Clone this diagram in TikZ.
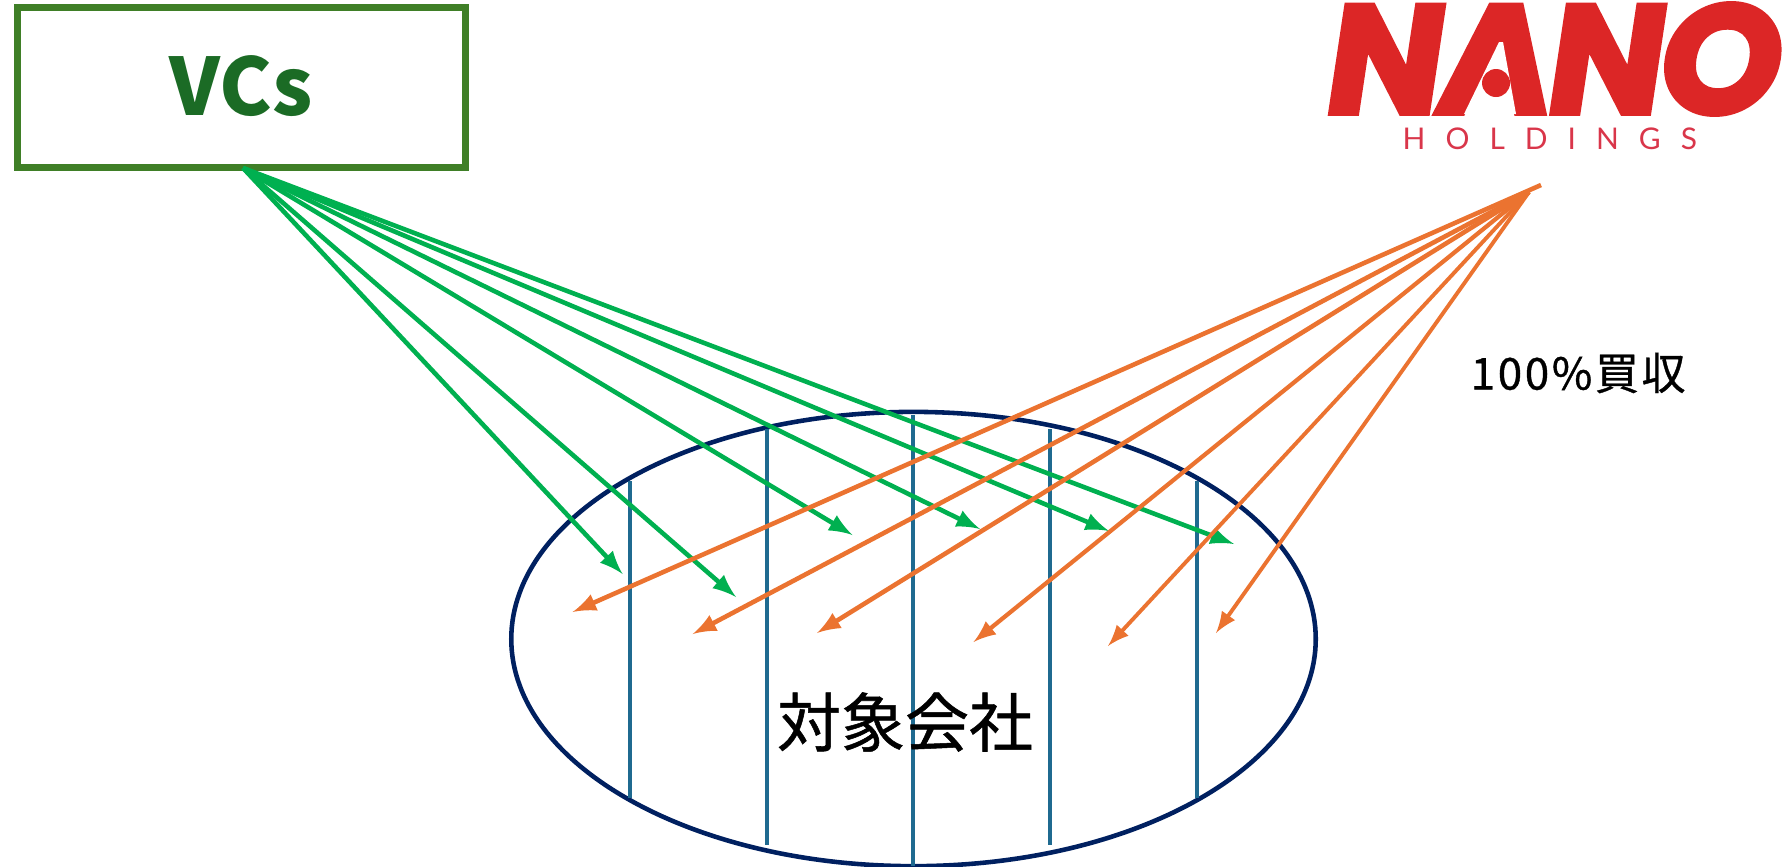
\documentclass[tikz,border=0pt]{standalone}
\usepackage{fontspec}
\usepackage{xcolor}
\usepackage{tikz}
\usetikzlibrary{calc, shapes.geometric, positioning}
\setmainfont[FakeBold=0.8]{Noto Sans CJK JP}
\newfontfamily\vcfont{Noto Sans CJK JP}
\newfontfamily\logofont[FakeSlant=0.15,FakeBold=3,LetterSpace=-3]{Poppins}
\newfontfamily\holdfont[LetterSpace=67]{Lato}
\newfontfamily\numfont[LetterSpace=6,FakeBold=0.8]{Noto Sans CJK JP}
\definecolor{vcbox}{HTML}{3F7F27}
\definecolor{vctext}{HTML}{1B6B25}
\definecolor{vcarrow}{HTML}{00B050}
\definecolor{nanoarrow}{HTML}{EB7330}
\definecolor{nanored}{HTML}{DC2626}
\definecolor{nanopink}{HTML}{D9364A}
\definecolor{targetline}{HTML}{002060}
\definecolor{shareline}{HTML}{1F6A90}
\tikzset{
    vcarr/.style={->, vcarrow, line width=1.3pt},
    nanoarr/.style={->, nanoarrow, line width=#1},
    shareln/.style={shareline, line width=1pt}
}

\begin{document}
\begin{tikzpicture}[>=latex, x=0.01cm, y=-0.01cm]
    \useasboundingbox (0,0) rectangle (1783,866);

    % Target company
    \node[ellipse, draw=targetline, line width=1.3pt, inner sep=0pt, outer sep=0pt,
        minimum width=8.04cm, minimum height=4.54cm] (target) at (913.5,639) {};
    \foreach \x/\t/\b in {630/481/798, 767/429/845, 913/415/866, 1050/429/845, 1197/481/798} {
        \draw[shareln] (\x,\t) -- (\x,\b);
    }
    \node[font=\fontsize{18.2}{20}\selectfont, inner sep=0pt] (targetname) at (905,722) {対象会社};

    % VCs box
    \node[draw=vcbox, line width=2pt, fill=white, outer sep=0pt, minimum width=4.47cm,
        minimum height=1.59cm, text=vctext] (vcs) at (241.5,87.5)
        {\raisebox{0.03cm}{\fontsize{22.5}{24}\selectfont\vcfont\bfseries VCs}};

    % Logo
    \node[text=nanored, inner sep=0pt, anchor=center] (nano) at (1548,59)
        {\fontsize{44}{46}\selectfont\logofont\bfseries NANO};
    \fill[white] (1499,42) -- (1464,114) -- (1516,114) -- (1503,42) -- cycle;
    \fill[nanored] (1496,83) circle (14);
    \node[text=nanopink, inner sep=0pt, anchor=west] (holdings) at (1402,138.5)
        {\fontsize{8.5}{10}\selectfont\holdfont HOLDINGS};

    \node[font=\fontsize{12.5}{14}\selectfont, inner sep=0pt, anchor=west] (buyout) at (1470,373)
        {\numfont 100\%買収};

    % Arrows from VCs
    \coordinate (vcsrc) at (243,168);
    \foreach \i/\x/\y in {1/622.6/574, 2/736/597, 3/852.5/535, 4/980/529, 5/1109/531, 6/1234/544} {
        \coordinate (vc\i) at (\x,\y);
        \draw[vcarr] (vcsrc) -- (vc\i);
    }

    % Arrows from NANO
    \coordinate (nanosrc) at (1541,185);
    \coordinate (nanomid) at (1529,192);
    \coordinate (nn1) at (572.6,612);
    \draw[nanoarr=1.3pt] (nanosrc) -- (nn1);
    \foreach \i/\x/\y/\w in {2/692.7/634/1.3pt, 3/817/633/1.3pt, 4/973.5/642/1.2pt, 5/1108/646/1.1pt, 6/1216/633/1.1pt} {
        \coordinate (nn\i) at (\x,\y);
        \draw[nanoarr=\w] (nanomid) -- (nn\i);
    }
\end{tikzpicture}
\end{document}
